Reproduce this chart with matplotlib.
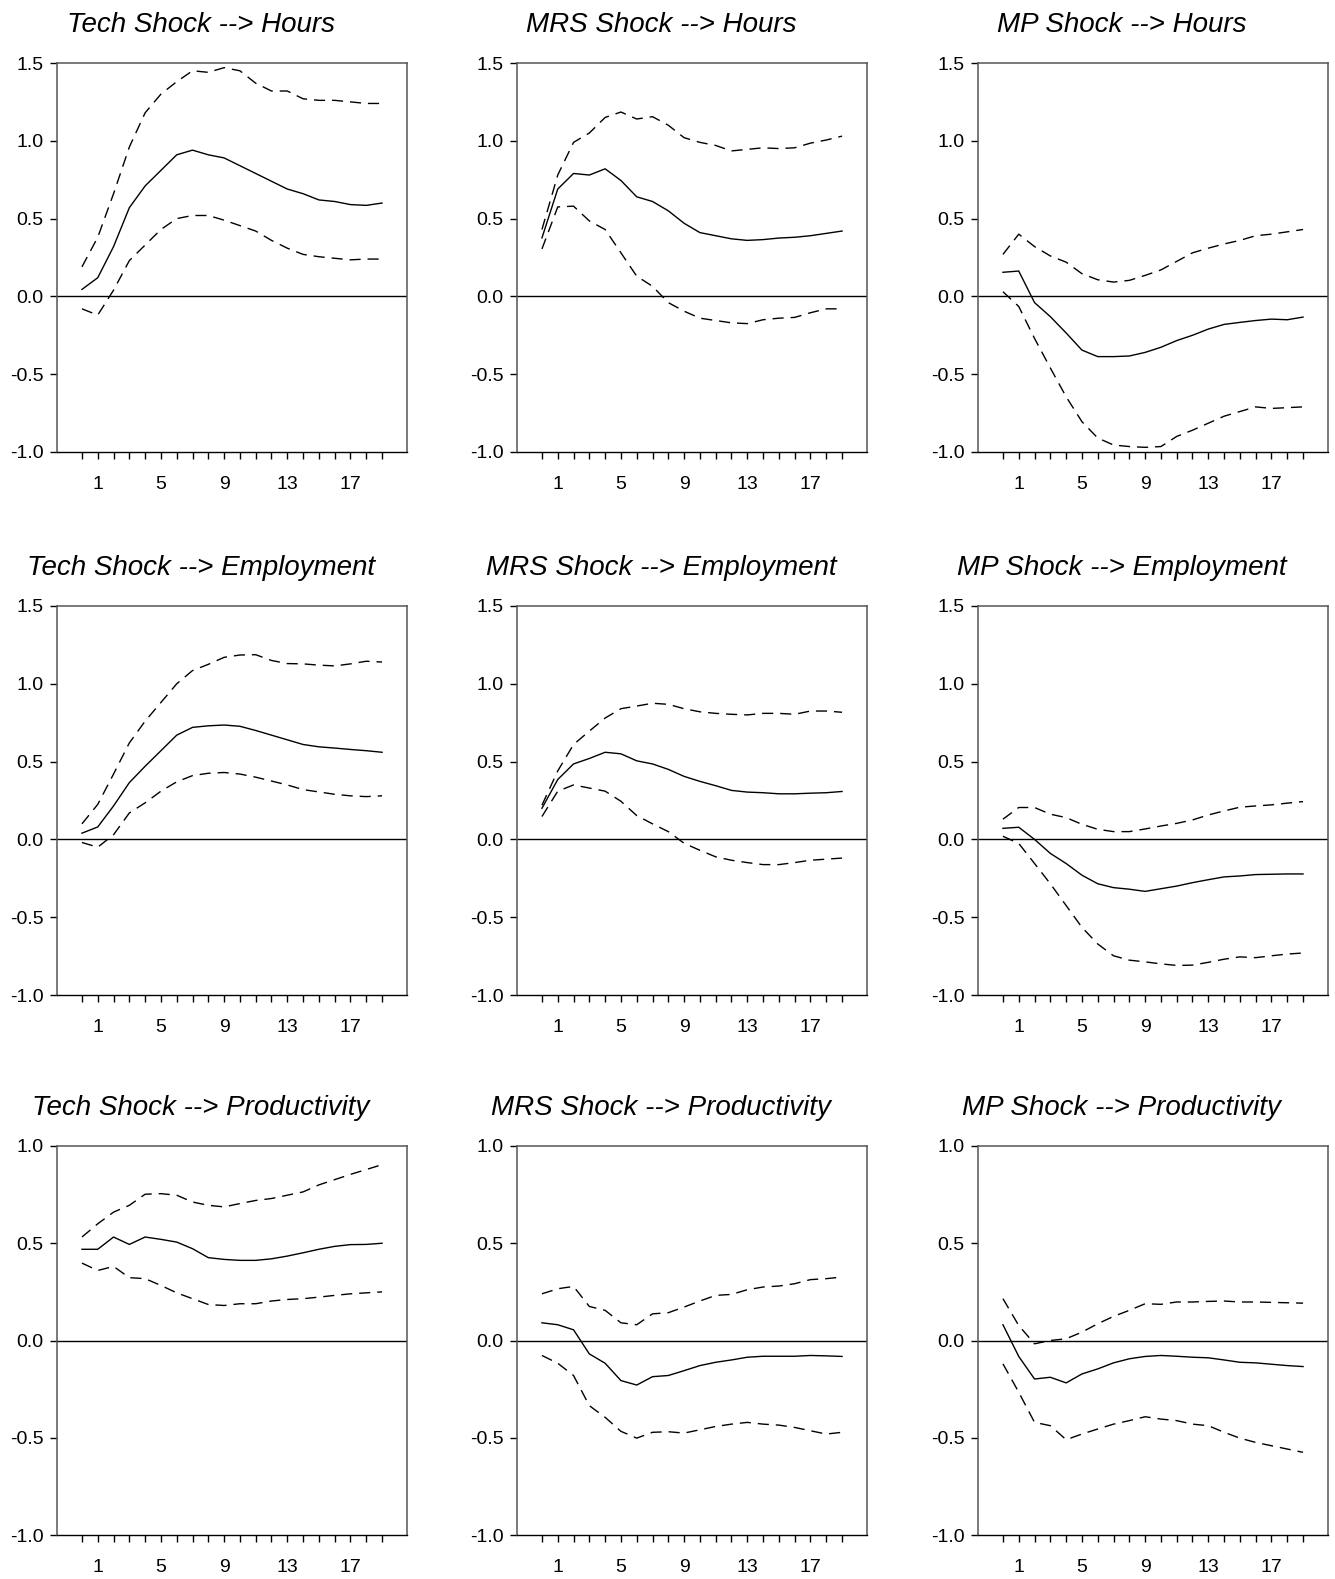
import matplotlib
matplotlib.use("Agg")
import matplotlib.pyplot as plt
import numpy as np

plt.rcParams['font.family'] = ['Liberation Sans', 'DejaVu Sans']
plt.rcParams['axes.unicode_minus'] = False

horizon = np.arange(20)
tick_pos = [1, 5, 9, 13, 17]

shocks = ['Tech', 'MRS', 'MP']
responses = ['Hours', 'Employment', 'Productivity']

# point estimates and lower / upper bands, one list per panel
tech_hours = [0.045, 0.12, 0.32, 0.57, 0.71, 0.81, 0.91, 0.94, 0.91, 0.89,
              0.84, 0.79, 0.74, 0.69, 0.66, 0.62, 0.61, 0.59, 0.585, 0.60]
tech_hours_lo = [-0.08, -0.12, 0.04, 0.23, 0.33, 0.43, 0.50, 0.52, 0.52, 0.49,
                 0.455, 0.42, 0.36, 0.31, 0.27, 0.255, 0.245, 0.235, 0.24, 0.24]
tech_hours_hi = [0.19, 0.38, 0.66, 0.96, 1.18, 1.30, 1.38, 1.45, 1.44, 1.47,
                 1.45, 1.37, 1.32, 1.32, 1.27, 1.26, 1.26, 1.25, 1.24, 1.24]

mrs_hours = [0.376, 0.69, 0.79, 0.78, 0.82, 0.745, 0.64, 0.61, 0.55, 0.47,
             0.41, 0.39, 0.37, 0.36, 0.365, 0.375, 0.38, 0.39, 0.405, 0.42]
mrs_hours_lo = [0.305, 0.575, 0.58, 0.485, 0.43, 0.28, 0.13, 0.065, -0.04, -0.095,
                -0.14, -0.155, -0.17, -0.175, -0.15, -0.14, -0.135, -0.105, -0.08, -0.08]
mrs_hours_hi = [0.43, 0.78, 0.99, 1.05, 1.15, 1.185, 1.14, 1.155, 1.10, 1.02,
                0.99, 0.97, 0.935, 0.945, 0.955, 0.95, 0.955, 0.985, 1.005, 1.03]

mp_hours = [0.155, 0.163, -0.04, -0.13, -0.235, -0.345, -0.387, -0.387, -0.383, -0.36,
            -0.327, -0.284, -0.25, -0.21, -0.18, -0.167, -0.155, -0.146, -0.15, -0.133]
mp_hours_lo = [0.03, -0.065, -0.27, -0.46, -0.645, -0.805, -0.91, -0.955, -0.965, -0.97,
               -0.965, -0.90, -0.86, -0.815, -0.77, -0.74, -0.71, -0.72, -0.715, -0.71]
mp_hours_hi = [0.27, 0.40, 0.32, 0.26, 0.22, 0.146, 0.107, 0.092, 0.103, 0.135,
               0.17, 0.225, 0.28, 0.31, 0.337, 0.36, 0.39, 0.40, 0.415, 0.43]

tech_emp = [0.04, 0.08, 0.215, 0.365, 0.47, 0.57, 0.67, 0.72, 0.73, 0.735,
            0.727, 0.70, 0.67, 0.64, 0.61, 0.595, 0.587, 0.578, 0.57, 0.56]
tech_emp_lo = [-0.02, -0.05, 0.03, 0.17, 0.235, 0.31, 0.37, 0.41, 0.425, 0.43,
               0.42, 0.40, 0.375, 0.35, 0.32, 0.305, 0.29, 0.28, 0.275, 0.28]
tech_emp_hi = [0.10, 0.225, 0.42, 0.62, 0.76, 0.88, 1.0, 1.085, 1.125, 1.17,
               1.185, 1.187, 1.15, 1.13, 1.128, 1.12, 1.115, 1.128, 1.145, 1.14]

mrs_emp = [0.20, 0.385, 0.485, 0.52, 0.56, 0.55, 0.505, 0.485, 0.45, 0.405,
           0.373, 0.345, 0.315, 0.304, 0.30, 0.293, 0.293, 0.297, 0.30, 0.308]
mrs_emp_lo = [0.147, 0.31, 0.35, 0.33, 0.31, 0.245, 0.153, 0.10, 0.05, -0.025,
              -0.07, -0.112, -0.134, -0.149, -0.162, -0.162, -0.149, -0.134, -0.127, -0.12]
mrs_emp_hi = [0.22, 0.44, 0.61, 0.696, 0.78, 0.84, 0.857, 0.875, 0.868, 0.84,
              0.82, 0.81, 0.804, 0.80, 0.81, 0.81, 0.804, 0.825, 0.825, 0.817]

mp_emp = [0.071, 0.078, 0.0, -0.09, -0.155, -0.23, -0.285, -0.31, -0.32, -0.334,
          -0.317, -0.30, -0.278, -0.259, -0.241, -0.235, -0.226, -0.224, -0.222, -0.222]
mp_emp_lo = [0.02, -0.026, -0.155, -0.285, -0.425, -0.565, -0.672, -0.748, -0.776, -0.787,
             -0.80, -0.81, -0.808, -0.79, -0.77, -0.755, -0.76, -0.748, -0.737, -0.73]
mp_emp_hi = [0.13, 0.205, 0.205, 0.162, 0.14, 0.097, 0.065, 0.05, 0.05, 0.067,
             0.086, 0.103, 0.125, 0.157, 0.183, 0.207, 0.215, 0.222, 0.233, 0.243]

tech_prod = [0.469, 0.469, 0.532, 0.494, 0.532, 0.52, 0.506, 0.472, 0.426, 0.417,
             0.412, 0.412, 0.42, 0.434, 0.451, 0.469, 0.484, 0.493, 0.494, 0.50]
tech_prod_lo = [0.398, 0.36, 0.381, 0.323, 0.318, 0.283, 0.245, 0.215, 0.185, 0.18,
                0.189, 0.189, 0.203, 0.211, 0.215, 0.223, 0.232, 0.24, 0.245, 0.25]
tech_prod_hi = [0.532, 0.60, 0.66, 0.695, 0.752, 0.755, 0.747, 0.712, 0.695, 0.687,
                0.704, 0.72, 0.73, 0.747, 0.764, 0.80, 0.827, 0.854, 0.879, 0.904]

mrs_prod = [0.091, 0.081, 0.055, -0.069, -0.117, -0.206, -0.229, -0.186, -0.18, -0.155,
            -0.129, -0.112, -0.10, -0.086, -0.081, -0.081, -0.081, -0.077, -0.079, -0.082]
mrs_prod_lo = [-0.077, -0.117, -0.18, -0.335, -0.395, -0.467, -0.502, -0.472, -0.469, -0.476,
               -0.459, -0.442, -0.43, -0.421, -0.43, -0.435, -0.447, -0.464, -0.481, -0.472]
mrs_prod_hi = [0.24, 0.266, 0.278, 0.175, 0.155, 0.091, 0.081, 0.137, 0.143, 0.172,
               0.203, 0.232, 0.237, 0.261, 0.275, 0.28, 0.292, 0.313, 0.318, 0.326]

mp_prod = [0.081, -0.082, -0.198, -0.189, -0.218, -0.172, -0.146, -0.115, -0.094, -0.082,
           -0.077, -0.081, -0.086, -0.089, -0.10, -0.112, -0.115, -0.122, -0.129, -0.134]
mp_prod_lo = [-0.12, -0.266, -0.421, -0.438, -0.51, -0.481, -0.455, -0.43, -0.412, -0.392,
              -0.404, -0.412, -0.43, -0.438, -0.472, -0.502, -0.524, -0.541, -0.558, -0.575]
mp_prod_hi = [0.215, 0.077, -0.017, 0.0, 0.009, 0.043, 0.086, 0.124, 0.155, 0.189,
              0.186, 0.198, 0.198, 0.201, 0.203, 0.198, 0.198, 0.196, 0.194, 0.192]

panels = [
    [(tech_hours, tech_hours_lo, tech_hours_hi),
     (mrs_hours, mrs_hours_lo, mrs_hours_hi),
     (mp_hours, mp_hours_lo, mp_hours_hi)],
    [(tech_emp, tech_emp_lo, tech_emp_hi),
     (mrs_emp, mrs_emp_lo, mrs_emp_hi),
     (mp_emp, mp_emp_lo, mp_emp_hi)],
    [(tech_prod, tech_prod_lo, tech_prod_hi),
     (mrs_prod, mrs_prod_lo, mrs_prod_hi),
     (mp_prod, mp_prod_lo, mp_prod_hi)],
]
row_ylim = [(-1.0, 1.5), (-1.0, 1.5), (-1.0, 1.0)]

W, H = 1335, 1579
fig = plt.figure(figsize=(W / 100, H / 100), dpi=100)

# panel boxes in pixels
col_left = [57, 517, 978]
row_top = [63, 606, 1146]
ax_w, ax_h = 350, 389

for r in range(3):
    for c in range(3):
        ax = fig.add_axes([col_left[c] / W, 1 - (row_top[r] + ax_h) / H,
                           ax_w / W, ax_h / H])
        est, lo, hi = panels[r][c]
        ax.axhline(0, color='black', lw=1.0, zorder=1)
        ax.plot(horizon, est, color='black', lw=1.0)
        ax.plot(horizon, lo, color='black', lw=1.0, dashes=(8, 5))
        ax.plot(horizon, hi, color='black', lw=1.0, dashes=(8, 5))

        ax.set_xlim(-1.58, 20.58)
        ax.set_ylim(*row_ylim[r])
        ax.set_xticks(horizon)
        ax.set_xticklabels([str(h) if h in tick_pos else '' for h in horizon])
        ax.set_yticks(np.arange(row_ylim[r][0], row_ylim[r][1] + 0.01, 0.5))
        ax.set_yticklabels(['%.1f' % v for v in ax.get_yticks()])
        ax.tick_params(axis='x', direction='out', length=5, width=1.0,
                       pad=12.5, labelsize=14)
        ax.tick_params(axis='y', direction='out', length=5, width=1.0,
                       pad=4.8, labelsize=14)
        for side in ['left', 'top', 'right']:
            ax.spines[side].set_color('#555555')
            ax.spines[side].set_linewidth(1.1)
        ax.spines['bottom'].set_color('black')
        ax.spines['bottom'].set_linewidth(1.0)

        ax.text(0.411, 1.098, '%s Shock --> %s' % (shocks[c], responses[r]),
                transform=ax.transAxes, ha='center', va='center',
                fontsize=20, style='italic')

plt.savefig('out.png', dpi=100)
